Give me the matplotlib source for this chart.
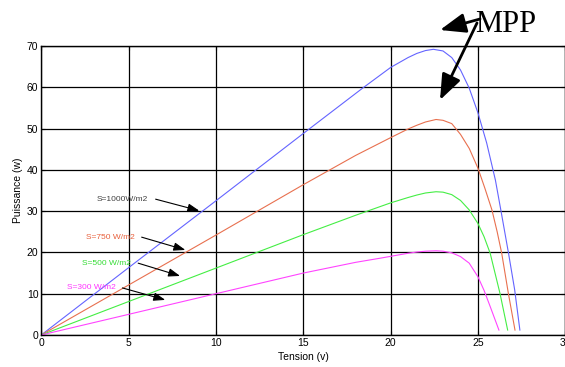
import numpy as np
from matplotlib import pyplot as plt
from matplotlib.patches import FancyArrowPatch

plt.rcParams['font.family'] = ['Liberation Sans', 'DejaVu Sans']

# P-V curves of the PV panel for several irradiance levels
v_1000 = [0, 5, 10, 15, 18.4, 20, 21, 21.5, 22, 22.45, 23, 23.5, 24, 24.5, 25, 25.5, 26, 26.3, 26.75, 27.1, 27.4]
p_1000 = [0, 16.3, 32.5, 48.8, 59.8, 64.8, 67.2, 68.2, 68.9, 69.2, 68.8, 67.2, 64.2, 59.8, 53.8, 46.5, 37.5, 30.5, 19.8, 11, 1.2]

v_750 = [0, 5, 10, 15, 18, 20, 21, 21.5, 22, 22.6, 23, 23.5, 24, 24.5, 25, 25.4, 25.8, 26.1, 26.36, 26.74, 27.12]
p_750 = [0, 12.1, 24.2, 36.4, 43.5, 47.8, 49.9, 50.8, 51.6, 52.2, 52.0, 51.2, 48.6, 45.2, 40.4, 35.5, 30.3, 25, 19.8, 10.1, 1.2]

v_500 = [0, 5, 10, 15, 18, 20, 21, 21.5, 22, 22.6, 23, 23.5, 24, 24.5, 25, 25.35, 25.7, 26.26, 26.7]
p_500 = [0, 8.1, 16.2, 24.3, 29, 32, 33.3, 33.9, 34.4, 34.7, 34.6, 34, 32.6, 30.3, 27, 23.8, 19.8, 10.1, 1.2]

v_300 = [0, 5, 10, 15, 18, 19.4, 21, 21.5, 22, 22.6, 23, 23.5, 24, 24.5, 25, 25.35, 25.7, 26.2]
p_300 = [0, 5, 10, 15, 17.6, 18.6, 19.8, 20.1, 20.3, 20.4, 20.3, 19.9, 19, 17.4, 14.1, 10.8, 6.9, 1.2]

labels = ['S=1000W/m2', 'S=750 W/m2', 'S=500 W/m2', 'S=300 W/m2']
line_colors = ['#6464ff', '#e8704f', '#44ee44', '#ff44ff']
text_colors = ['#404040', '#e8603c', '#33dd33', '#ff33ff']

# label text centre, arrow tail, arrow head (data coords)
text_xy = [(4.65, 32.9), (3.95, 23.6), (3.72, 17.4), (2.85, 11.6)]
tail_xy = [(6.55, 32.9), (5.75, 23.7), (5.55, 17.4), (4.65, 11.4)]
head_xy = [(9.05, 30.1), (8.25, 20.6), (7.95, 14.3), (7.1, 8.5)]

fig = plt.figure(figsize=(5.65, 3.67), dpi=100)
ax = fig.add_axes([41.2 / 565, 1 - 335 / 367, 524.1 / 565, 289 / 367])

curves = [(v_1000, p_1000), (v_750, p_750), (v_500, p_500), (v_300, p_300)]
for (v, p), c in zip(curves, line_colors):
    ax.plot(v, p, color=c, lw=0.8)

for lab, tc, t, a, h in zip(labels, text_colors, text_xy, tail_xy, head_xy):
    ax.text(t[0], t[1], lab, color=tc, fontsize=6, ha='center', va='center')
    ax.annotate('', xy=h, xytext=a,
                arrowprops=dict(arrowstyle='-|>,head_length=0.7,head_width=0.25',
                                mutation_scale=10, color='black', lw=0.8,
                                shrinkA=0, shrinkB=0))

ax.set_xlim(0, 30)
ax.set_ylim(0, 70)
ax.set_xticks(np.arange(0, 31, 5))
ax.set_yticks(np.arange(0, 71, 10))
ax.grid(True, color='black', lw=0.9)
ax.tick_params(direction='in', length=3, top=True, right=True, labelsize=7.5, pad=2)
for s in ax.spines.values():
    s.set_linewidth(1.0)
ax.set_xlabel('Tension (v)', fontsize=7.5, labelpad=3)
ax.set_ylabel('Puissance (w)', fontsize=7.5, labelpad=3)

# maximum power point marker text with its two arrows
fig.text(506 / 565, 1 - 24 / 367, 'MPP', family='Liberation Serif', fontsize=22,
         ha='center', va='center')
for tail, head in [((480, 348), (440, 337)), ((477, 344), (440, 267))]:
    fig.add_artist(FancyArrowPatch(
        (tail[0] / 565, tail[1] / 367), (head[0] / 565, head[1] / 367),
        transform=fig.transFigure,
        arrowstyle='-|>,head_length=1.3,head_width=0.5', mutation_scale=12,
        color='black', lw=2, shrinkA=0, shrinkB=0))

fig.savefig('out.png', dpi=100)
